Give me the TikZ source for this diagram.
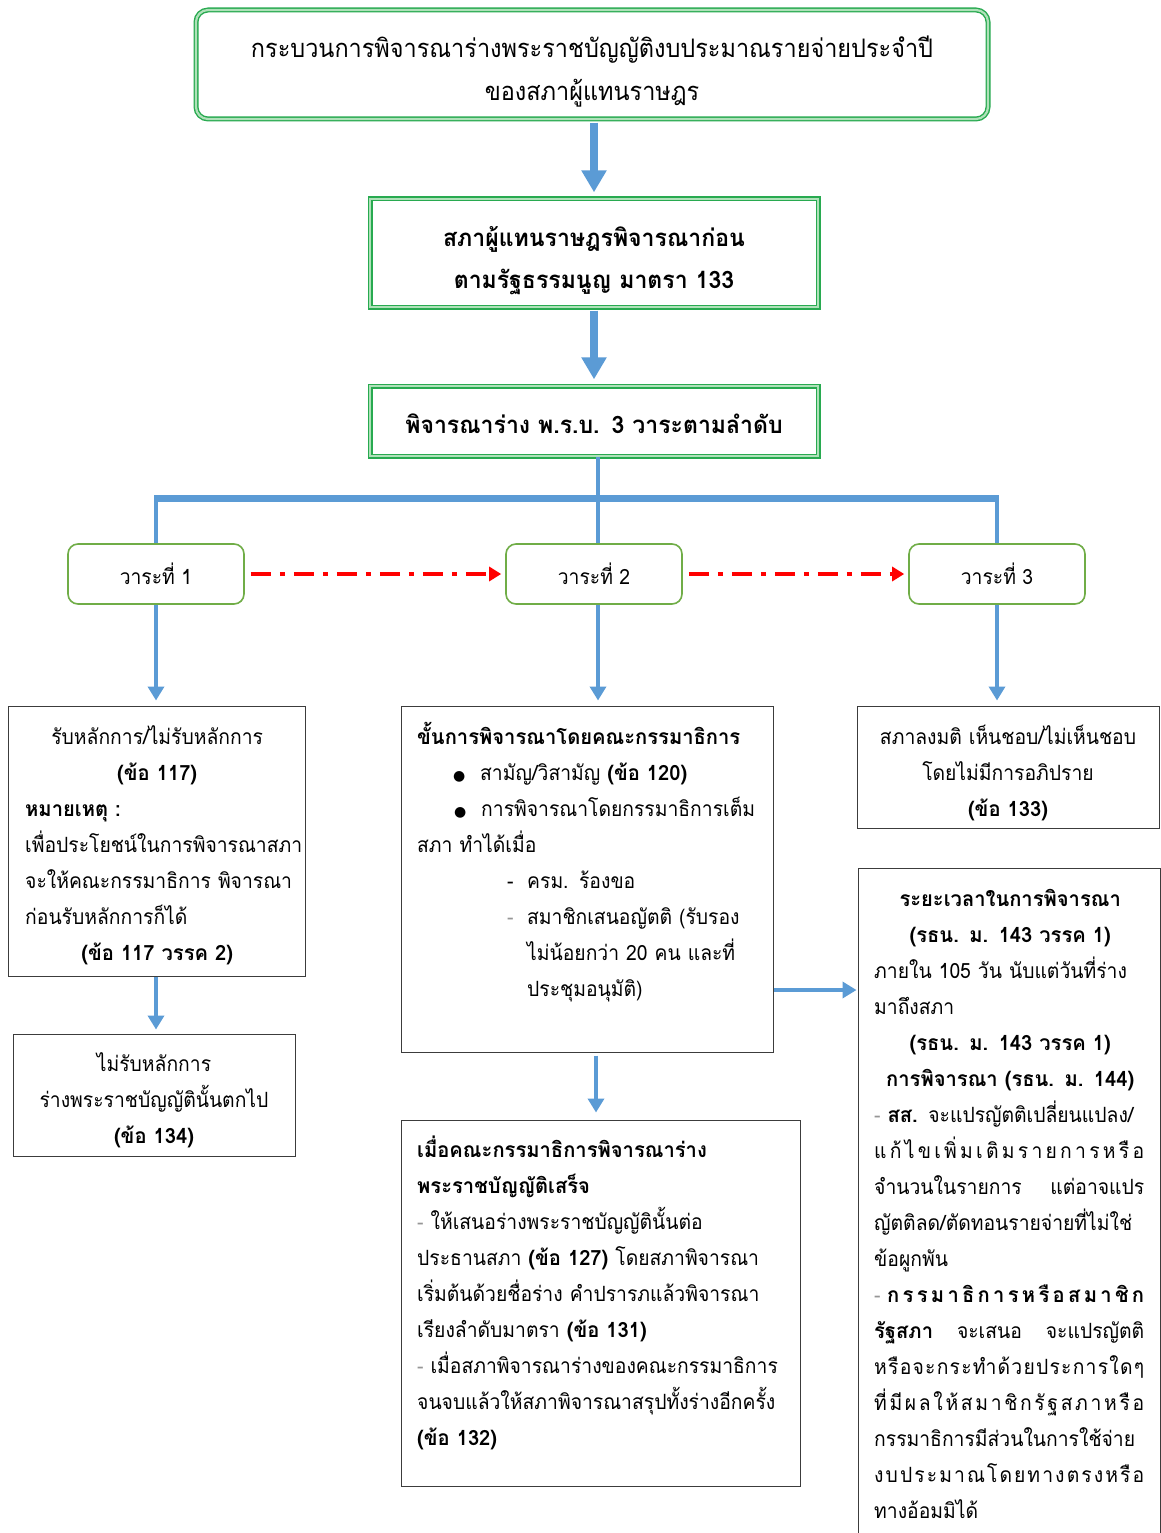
\documentclass[tikz,border=0pt]{standalone}
\usepackage{fontspec}
\setmainfont[Script=Thai, FakeStretch=0.92, BoldFeatures={FakeStretch=0.96}]{Loma}
\newfontfamily\symfont{DejaVu Sans}
\usetikzlibrary{arrows.meta,calc}
\definecolor{arrowblue}{RGB}{91,155,213}
\definecolor{gdark}{RGB}{40,170,80}
\definecolor{glight}{RGB}{175,225,185}
\definecolor{vgreen}{RGB}{112,173,71}
\definecolor{boxline}{RGB}{60,60,60}
\definecolor{dashgray}{RGB}{150,150,150}
\newcommand\bul{\makebox[27pt][l]{\symfont\fontsize{14}{36}\selectfont ●}}
\newcommand\gp{\hfil}
\newcommand\spreadline[1]{\makebox[270pt][s]{#1}}
\tikzset{
 dbox/.style={draw=gdark, line width=1.4pt, double=glight, double distance=2.2pt, inner sep=0pt},
 vbox/.style={draw=vgreen, line width=1.6pt, rounded corners=10pt, fill=white, inner sep=0pt,
   minimum width=176pt, minimum height=60pt, font=\fontsize{21}{36}\selectfont},
 tbox/.style={draw=boxline, line width=1pt, inner sep=0pt},
 ltext/.style={anchor=north west, inner sep=0pt, align=left, text width=420pt, font=\fontsize{21}{36}\selectfont},
 ctext/.style={anchor=north, inner sep=0pt, align=center, text width=420pt, font=\fontsize{21}{36}\selectfont},
 bigarrow/.style={draw=arrowblue, line width=8pt, -{Triangle[width=24pt,length=22pt]}},
 midarrow/.style={draw=arrowblue, line width=4pt, -{Triangle[width=16pt,length=14pt]}},
 blueline/.style={draw=arrowblue, line width=4pt},
 redarrow/.style={draw=red, line width=4.5pt, dash pattern=on 20pt off 9pt on 5pt off 9pt,
   -{Triangle[width=14pt,length=12pt]}},
}
\begin{document}
\begin{tikzpicture}[x=1pt,y=-1pt]
\useasboundingbox (0,0) rectangle (1161,1533);
\fill[white] (0,0) rectangle (1161,1533);

% top boxes
\node[dbox, rounded corners=12pt, minimum width=792pt, minimum height=109pt] (top) at (592,64.5) {};
\node[dbox, minimum width=448pt, minimum height=108pt] (b2) at (594,253) {};
\node[dbox, minimum width=448pt, minimum height=70pt] (b3) at (594,421) {};

\node[ctext, text width=780pt, font=\fontsize{25.5}{43}\selectfont] (ttop) at (592,26.9)
  {\strut กระบวนการพิจารณาร่างพระราชบัญญัติงบประมาณรายจ่ายประจำปี\\ของสภาผู้แทนราษฎร};
\node[ctext, text width=440pt, font=\bfseries\fontsize{24}{42}\selectfont] (tb2) at (594,216.6)
  {\strut สภาผู้แทนราษฎรพิจารณาก่อน\\ตามรัฐธรรมนูญ มาตรา 133};
\node[ctext, text width=440pt, font=\bfseries\fontsize{24}{42}\selectfont] (tb3) at (594,403.6)
  {\strut พิจารณาร่าง พ.ร.บ. 3 วาระตามลำดับ};

% vara boxes
\node[vbox] (v1) at (156,574) {วาระที่ 1};
\node[vbox] (v2) at (594,574) {วาระที่ 2};
\node[vbox] (v3) at (997,574) {วาระที่ 3};

% text boxes
\node[tbox, minimum width=297pt, minimum height=270pt] (l1) at (156.5,841) {};
\node[tbox, minimum width=372pt, minimum height=346pt] (m1) at (587,879) {};
\node[tbox, minimum width=302pt, minimum height=122pt] (r1) at (1008,767) {};
\node[tbox, minimum width=282pt, minimum height=122pt] (l2) at (154,1095) {};
\node[tbox, minimum width=399pt, minimum height=366pt] (m2) at (600.5,1303) {};
\node[tbox, minimum width=302pt, minimum height=692pt] (r2) at (1009,1214) {};

\node[ltext] (tl1) at (25,718.8) {\strut
\makebox[264pt]{รับหลักการ/ไม่รับหลักการ}\\
\makebox[264pt]{\textbf{(ข้อ 117)}}\\
\textbf{หมายเหตุ :}\\
เพื่อประโยชน์ในการพิจารณาสภา\\
จะให้คณะกรรมาธิการ พิจารณา\\
ก่อนรับหลักการก็ได้\\
\makebox[264pt]{\textbf{(ข้อ 117 วรรค 2)}}};

\node[ltext] (tm1) at (417,718.8) {\strut
\textbf{ขั้นการพิจารณาโดยคณะกรรมาธิการ}\\
\hspace*{36pt}\bul สามัญ/วิสามัญ \textbf{(ข้อ 120)}\\
\hspace*{37pt}\bul การพิจารณาโดยกรรมาธิการเต็ม\\
สภา ทำได้เมื่อ\\
\hspace*{90pt}\makebox[20pt][l]{-}ครม. ร้องขอ\\
\hspace*{90pt}\makebox[20pt][l]{\color{dashgray}-}สมาชิกเสนอญัตติ (รับรอง\\
\hspace*{110pt}ไม่น้อยกว่า 20 คน และที่\\
\hspace*{110pt}ประชุมอนุมัติ)};

\node[ctext] (tr1) at (1008,718.8) {\strut
สภาลงมติ เห็นชอบ/ไม่เห็นชอบ\\
โดยไม่มีการอภิปราย\\
\textbf{(ข้อ 133)}};

\node[ctext] (tl2) at (154,1045.8) {\strut
ไม่รับหลักการ\\
ร่างพระราชบัญญัตินั้นตกไป\\
\textbf{(ข้อ 134)}};

\node[ltext] (tm2) at (417,1131.8) {\strut
\textbf{เมื่อคณะกรรมาธิการพิจารณาร่าง}\\
\textbf{พระราชบัญญัติเสร็จ}\\
{\color{dashgray}-} ให้เสนอร่างพระราชบัญญัตินั้นต่อ\\
ประธานสภา \textbf{(ข้อ 127)} โดยสภาพิจารณา\\
เริ่มต้นด้วยชื่อร่าง คำปรารภแล้วพิจารณา\\
เรียงลำดับมาตรา \textbf{(ข้อ 131)}\\
{\color{dashgray}-} เมื่อสภาพิจารณาร่างของคณะกรรมาธิการ\\
จนจบแล้วให้สภาพิจารณาสรุปทั้งร่างอีกครั้ง\\
\textbf{(ข้อ 132)}};

\node[ltext] (tr2) at (874,880.8) {\strut
\makebox[272pt]{\textbf{ระยะเวลาในการพิจารณา}}\\
\makebox[272pt]{\textbf{(รธน. ม. 143 วรรค 1)}}\\
ภายใน 105 วัน นับแต่วันที่ร่าง\\
มาถึงสภา\\
\makebox[272pt]{\textbf{(รธน. ม. 143 วรรค 1)}}\\
\makebox[272pt]{\textbf{การพิจารณา (รธน. ม. 144)}}\\
{\color{dashgray}-} \textbf{สส.} จะแปรญัตติเปลี่ยนแปลง/\\
\spreadline{แ\gp ก้\gp ไ\gp ข\gp เ\gp พิ่\gp ม\gp เ\gp ติ\gp ม\gp ร\gp า\gp ย\gp ก\gp า\gp ร\gp ห\gp รื\gp อ}\\
\spreadline{จำนวนในรายการ \gp แต่อาจแปร}\\
ญัตติลด/ตัดทอนรายจ่ายที่ไม่ใช่\\
ข้อผูกพัน\\
\spreadline{{\color{dashgray}-}\gp\gp\textbf{ก}\gp\textbf{ร}\gp\textbf{ร}\gp\textbf{ม}\gp\textbf{า}\gp\textbf{ธิ}\gp\textbf{ก}\gp\textbf{า}\gp\textbf{ร}\gp\textbf{ห}\gp\textbf{รื}\gp\textbf{อ}\gp\textbf{ส}\gp\textbf{ม}\gp\textbf{า}\gp\textbf{ชิ}\gp\textbf{ก}}\\
\spreadline{\textbf{รัฐสภา} \gp จะเสนอ \gp จะแปรญัตติ}\\
\spreadline{ห\gp รื\gp อ\gp จ\gp ะ\gp ก\gp ร\gp ะ\gp ทำ\gp ด้\gp ว\gp ย\gp ป\gp ร\gp ะ\gp ก\gp า\gp ร\gp ใ\gp ด\gp ๆ}\\
\spreadline{ที่\gp มี\gp ผ\gp ล\gp ใ\gp ห้\gp ส\gp ม\gp า\gp ชิ\gp ก\gp รั\gp ฐ\gp ส\gp ภ\gp า\gp ห\gp รื\gp อ}\\
กรรมาธิการมีส่วนในการใช้จ่าย\\
\spreadline{ง\gp บ\gp ป\gp ร\gp ะ\gp ม\gp า\gp ณ\gp โ\gp ด\gp ย\gp ท\gp า\gp ง\gp ต\gp ร\gp ง\gp ห\gp รื\gp อ}\\
ทางอ้อมมิได้};

% helper coordinates
\coordinate (barM) at (598,498);
\coordinate (b3s) at ($(b3.south)+(4,0)$);
\coordinate (v2n) at ($(v2.north)+(4,0)$);
\coordinate (v2s) at ($(v2.south)+(4,0)$);
\coordinate (m1s) at ($(m1.south)+(9,0)$);
\coordinate (m1e) at ($(m1.east)+(0,111)$);
\coordinate (barL) at ($(v1.north |- barM)+(-2,0)$);
\coordinate (barR) at ($(v3.north |- barM)+(2,0)$);

% connectors
\draw[bigarrow, shorten <=3pt, shorten >=6pt] (b2.north |- top.south) -- (b2.north);
\draw[bigarrow, shorten <=3pt, shorten >=6pt] (b2.south) -- (b3.north);

\draw[blueline] (b3s) -- (barM);
\draw[draw=arrowblue, line width=7pt] (barL) -- (barR);
\draw[blueline] (v1.north |- barM) -- (v1.north);
\draw[blueline] (v2n |- barM) -- (v2n);
\draw[blueline] (v3.north |- barM) -- (v3.north);

\draw[redarrow, shorten <=6pt, shorten >=4pt] (v1.east) -- (v2.west);
\draw[redarrow, shorten <=6pt, shorten >=4pt] (v2.east) -- (v3.west);

\draw[midarrow, shorten >=5pt] (v1.south) -- (v1.south |- l1.north);
\draw[midarrow, shorten >=5pt] (v2s) -- (v2s |- m1.north);
\draw[midarrow, shorten >=5pt] (v3.south) -- (v3.south |- r1.north);
\draw[midarrow, shorten >=4pt] (v1.south |- l1.south) -- (v1.south |- l2.north);
\draw[midarrow, shorten <=3pt, shorten >=7pt] (m1s) -- (m1s |- m2.north);
\draw[midarrow, shorten >=1pt] (m1e) -- (m1e -| r2.west);
\end{tikzpicture}
\end{document}
